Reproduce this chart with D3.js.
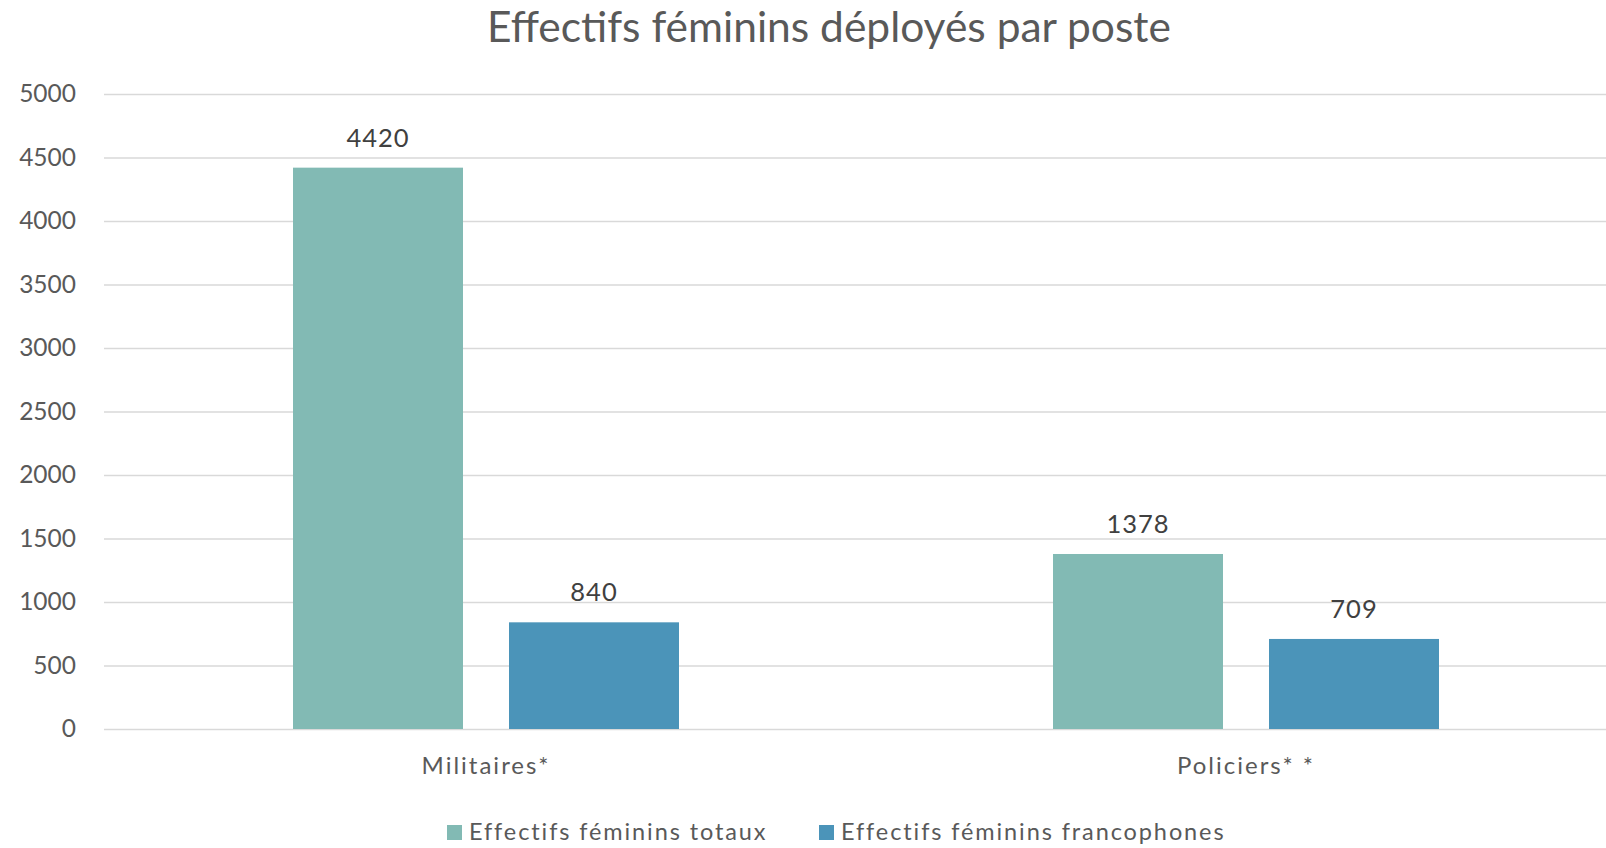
<!DOCTYPE html>
<html><head><meta charset="utf-8">
<script src="https://cdn.jsdelivr.net/npm/d3@7"></script>
<style>
html,body{margin:0;padding:0;background:#fff;}
svg{display:block;font-family:Lato, "Open Sans", sans-serif;}
</style></head>
<body>
<svg id="chart" width="1606" height="848"></svg>
<script>
const categories = ["Militaires*", "Policiers* *"];
const seriesNames = ["Effectifs féminins totaux", "Effectifs féminins francophones"];
const totaux = [4420, 1378];
const francophones = [840, 709];
const yTicks = [0, 500, 1000, 1500, 2000, 2500, 3000, 3500, 4000, 4500, 5000];
const colors = ["#82bab4", "#4b94b9"];
const title = "Effectifs féminins déployés par poste";

(function () {
const svg = d3.select("#chart");
const W = 1606, H = 848;
const mLeft = 104, mTop = 94, mBottom = 729;

const x = d3.scaleBand().domain(categories).range([mLeft + 2, mLeft + 2 + 1520]).paddingInner(0).paddingOuter(0);
const xs = d3.scaleBand().domain(seriesNames).range([-193, 193]).paddingInner(0.213).paddingOuter(0);
const y = d3.scaleLinear().domain([0, 5000]).range([mBottom, mTop]);
const textColor = "#595959";

// gridlines
const yAxis = d3.axisLeft(y).tickValues(yTicks).tickSize(-(W - mLeft)).tickPadding(28).tickFormat(d3.format("d"));
const gy = svg.append("g").attr("transform", `translate(${mLeft},0)`).call(yAxis);
gy.select(".domain").remove();
gy.selectAll(".tick line").attr("stroke", "#d9d9d9").attr("stroke-width", 1.5);
gy.selectAll(".tick text").attr("fill", textColor).attr("font-size", 24.5).attr("font-family", "Lato, sans-serif");

// bars
const data = categories.map((c, i) => ({cat: c, values: [totaux[i], francophones[i]]}));
const groups = svg.append("g").selectAll("g").data(data).join("g")
  .attr("transform", d => `translate(${x(d.cat) + x.bandwidth() / 2},0)`);
groups.selectAll("rect").data(d => d.values.map((v, j) => ({s: seriesNames[j], v, j})))
  .join("rect")
  .attr("x", d => xs(d.s))
  .attr("width", xs.bandwidth())
  .attr("y", d => y(d.v))
  .attr("height", d => y(0) - y(d.v))
  .attr("fill", d => colors[d.j]);
groups.selectAll("text.val").data(d => d.values.map((v, j) => ({s: seriesNames[j], v, j})))
  .join("text").attr("class", "val")
  .attr("x", d => xs(d.s) + xs.bandwidth() / 2)
  .attr("y", d => y(d.v) - 21)
  .attr("text-anchor", "middle")
  .attr("fill", "#404040")
  .attr("font-size", 25.5)
  .attr("letter-spacing", 1)
  .text(d => d.v);

// x axis labels
const xAxis = d3.axisBottom(x).tickSize(0).tickPadding(28);
const gx = svg.append("g").attr("transform", `translate(0,${mBottom})`).call(xAxis);
gx.select(".domain").remove();
gx.selectAll(".tick text").attr("fill", textColor).attr("font-size", 24).attr("letter-spacing", 2)
  .attr("font-family", "Lato, sans-serif");

// title
svg.append("text").attr("x", 829).attr("y", 42).attr("text-anchor", "middle")
  .attr("fill", textColor).attr("font-size", 42.5).text(title);

// legend
const legendX = [447, 819];
const lg = svg.append("g").selectAll("g").data(seriesNames).join("g")
  .attr("transform", (d, i) => `translate(${legendX[i]},832)`);
lg.append("rect").attr("x", 0).attr("y", -7).attr("width", 15).attr("height", 15).attr("fill", (d, i) => colors[i]);
lg.append("text").attr("x", 22).attr("y", 8).attr("fill", textColor).attr("font-size", 23.5)
  .attr("letter-spacing", 1.9).text(d => d);
})();
</script>
</body></html>
